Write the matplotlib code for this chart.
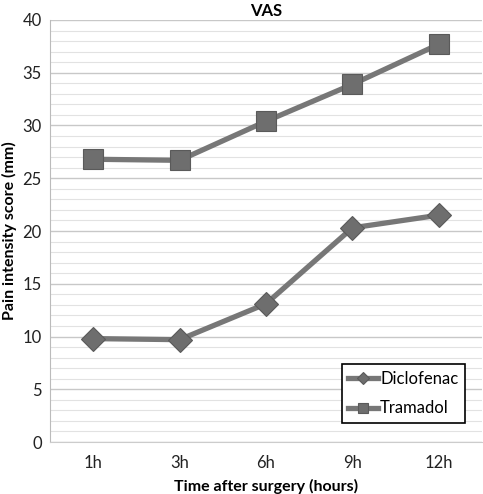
import matplotlib.pyplot as plt
import numpy as np

times = ['1h', '3h', '6h', '9h', '12h']
diclofenac = [9.8, 9.7, 13.1, 20.3, 21.5]
tramadol = [26.8, 26.7, 30.4, 33.9, 37.7]

plt.rcParams['font.family'] = ['Lato', 'DejaVu Sans']

fig = plt.figure(figsize=(4.83, 4.94), dpi=100)
ax = fig.add_axes([50/483, 52/494, 432/483, 422/494])

x = np.arange(len(times))
ax.plot(x, diclofenac, color='#777777', lw=3.8, marker='D', ms=12,
        mfc='#6e6e6e', mec='#5a5a5a', mew=0.8, label='Diclofenac')
ax.plot(x, tramadol, color='#777777', lw=3.8, marker='s', ms=14,
        mfc='#6e6e6e', mec='#5a5a5a', mew=0.8, label='Tramadol')

ax.set_xlim(-0.5, 4.5)
ax.set_ylim(0, 40)
ax.set_xticks(x)
ax.set_xticklabels(times)
ax.set_yticks(np.arange(0, 41, 5))
ax.set_yticks(np.arange(0, 41, 1), minor=True)
ax.grid(axis='y', which='major', color='#c8c8c8', lw=1.0)
ax.grid(axis='y', which='minor', color='#e2e2e2', lw=0.8)
ax.set_axisbelow(True)
ax.tick_params(axis='both', which='both', length=0, labelsize=12, colors='#222222')
ax.tick_params(axis='y', pad=6)
ax.tick_params(axis='x', pad=9)
for s in ['top', 'right']:
    ax.spines[s].set_visible(False)
ax.spines['left'].set_color('#bbbbbb')
ax.spines['bottom'].set_color('#cccccc')

ax.set_title('VAS', fontsize=12, fontweight='bold', pad=3)
ax.set_xlabel('Time after surgery (hours)', fontsize=11.5, fontweight='bold', labelpad=6)
ax.set_ylabel('Pain intensity score (mm)', fontsize=11.5, fontweight='bold', va='center')
ax.yaxis.set_label_coords(-0.093, 0.5)

leg = ax.legend(loc='lower right', bbox_to_anchor=(0.98, 0.025), fontsize=12,
                fancybox=False, framealpha=1, edgecolor='black', handlelength=1.8,
                handletextpad=0.1, borderpad=0.4, labelspacing=0.8, markerscale=0.5)
leg.get_frame().set_linewidth(1.2)

plt.savefig('out.png', dpi=100)
